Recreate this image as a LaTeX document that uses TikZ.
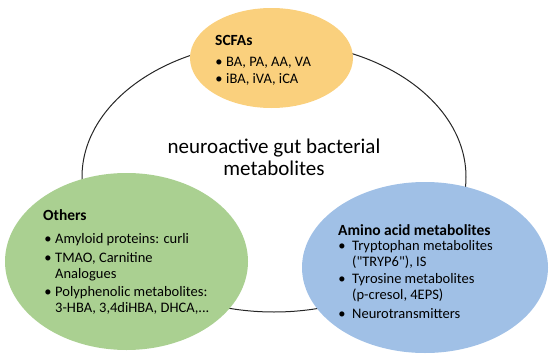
\documentclass[tikz,border=0pt]{standalone}
\usepackage{fontspec}
\setmainfont{Carlito}
\usetikzlibrary{shapes.geometric}
\definecolor{scfacol}{RGB}{250,208,125}
\definecolor{othcol}{RGB}{170,208,145}
\definecolor{aminocol}{RGB}{160,192,230}
\begin{document}
\begin{tikzpicture}[x=1pt,y=-1pt,
  blob/.style={ellipse, inner sep=0pt},
  ttl/.style={anchor=base west, inner sep=0pt, font=\fontsize{15.5}{18}\selectfont\bfseries},
  itm/.style={anchor=base west, inner sep=0pt, font=\fontsize{14.5}{17}\selectfont},
  dot/.style={anchor=base, inner sep=0pt, font=\fontsize{14.5}{17}\selectfont},
  ctr/.style={inner sep=0pt, font=\fontsize{21}{25}\selectfont, align=center}]
\useasboundingbox (0,0) rectangle (550,359);
\node[blob, draw=black!85, line width=1pt, minimum width=384pt, minimum height=270pt] (ring) at (274,177) {};
\node[blob, fill=scfacol, minimum width=163pt, minimum height=100pt] (scfa) at (271.5,58) {};
\node[blob, fill=othcol, minimum width=243pt, minimum height=177pt] (oth) at (126.5,261.5) {};
\node[blob, fill=aminocol, minimum width=246pt, minimum height=171pt] (amino) at (425,267.5) {};
\node[ctr, anchor=base] (c1) at (274,153) {neuroactive gut bacterial};
\node[ctr, anchor=base] (c2) at (274,175) {metabolites};
% SCFAs
\node[ttl] (s0) at (215,45) {SCFAs};
\node[dot] (sb1) at (219,66) {•};
\node[itm] (s1) at (226,66) {BA, PA, AA, VA};
\node[dot] (sb2) at (219,83) {•};
\node[itm] (s2) at (226,83) {iBA, iVA, iCA};
% Others
\node[ttl] (o0) at (43,220) {Others};
\node[dot] (ob1) at (48,243) {•};
\node[itm] (o1) at (55,243) {Amyloid proteins: curli};
\node[dot] (ob2) at (48,262) {•};
\node[itm] (o2) at (55,262) {TMAO, Carnitine};
\node[itm] (o3) at (55,278) {Analogues};
\node[dot] (ob3) at (48,296) {•};
\node[itm] (o4) at (55,296) {Polyphenolic metabolites:};
\node[itm] (o5) at (55,312) {3-HBA, 3,4diHBA, DHCA,...};
% Amino
\node[ttl] (a0) at (338,235) {Amino acid metabolites};
\node[dot] (ab1) at (342,250) {•};
\node[itm] (a1) at (352,250) {Tryptophan metabolites};
\node[itm] (a2) at (352,266) {(\textquotedbl TRYP6\textquotedbl), IS};
\node[dot] (ab2) at (342,283) {•};
\node[itm] (a3) at (352,283) {Tyrosine metabolites};
\node[itm] (a4) at (352,299) {(p-cresol, 4EPS)};
\node[dot] (ab3) at (342,318) {•};
\node[itm] (a5) at (352,318) {Neurotransmitters};
\end{tikzpicture}
\end{document}
